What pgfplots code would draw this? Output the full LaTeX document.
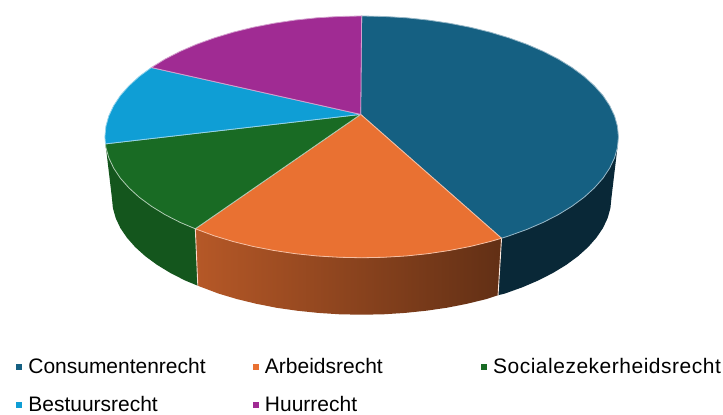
\documentclass[border=0pt]{standalone}
\usepackage{pgfplots}
\pgfplotsset{compat=1.18}
\usepackage{fontspec}
\setmainfont{Liberation Sans}
\definecolor{cBlue}{HTML}{156082}
\definecolor{cOrange}{HTML}{E97132}
\definecolor{cGreen}{HTML}{196B24}
\definecolor{cSky}{HTML}{0F9ED5}
\definecolor{cPurple}{HTML}{A02B93}
\begin{document}
\begin{tikzpicture}
\fill[white] (0,0) rectangle (723pt,410pt);
\begin{axis}[
  hide axis, scale only axis, width=723pt, height=410pt,
  xmin=0, xmax=723, ymin=0, ymax=410, y dir=reverse, clip=false,
  legend columns=3,
  legend cell align=left,
  legend style={draw=none, fill=none, at={(axis cs:16,357)}, anchor=north west,
    font=\fontsize{21}{24}\selectfont, inner sep=0pt, outer sep=0pt,
    /tikz/column 1/.style={column sep=5pt},
    /tikz/column 3/.style={column sep=5pt},
    /tikz/column 5/.style={column sep=5pt},
    row sep=16.5pt},
]
% sides
\addplot[forget plot, draw=none, fill=cBlue!42!black] coordinates {
(502,238.5)(509.4,236.1)(527.2,229.7)(543.7,222.6)(558.9,214.8)(572.5,206.4)(584.6,197.5)(594.9,188.1)(603.5,178.4)(610.2,168.3)(615.1,158)(618,147.6)
(612,198)(611,208.2)(608.2,218.3)(603.5,228.3)(596.9,238)(588.6,247.4)(578.5,256.5)(566.8,265.1)(553.5,273.2)(538.8,280.7)(522.7,287.6)(505.4,293.8)(498.5,295.5)} --cycle;
\addplot[forget plot, draw=none, shade, left color=cOrange!78!black, middle color=cOrange!52!black, right color=cOrange!42!black] coordinates {
(502,238.5)(490.5,241.8)(470.6,246.7)(449.9,250.7)(428.5,253.9)(406.6,256.2)(384.4,257.5)(362,258)(339.6,257.5)(317.4,256.2)(295.5,253.9)(274.1,250.7)(253.4,246.7)(233.5,241.8)(214.6,236.1)(195.5,229)
(198,286)(218.6,293.8)(237,299.3)(256.3,304)(276.5,308)(297.3,311)(318.6,313.2)(340.2,314.6)(362,315)(383.8,314.6)(405.4,313.2)(426.7,311)(447.5,308)(467.7,304)(487,299.3)(498.5,295.5)} --cycle;
\addplot[forget plot, draw=none, fill=cGreen!80!black] coordinates {
(195.5,229)(180.3,222.6)(165.1,214.8)(151.5,206.4)(139.4,197.5)(129.1,188.1)(120.5,178.4)(113.8,168.3)(108.9,158)(106,147.6)(105.6,144)
(112,198)(113,208.2)(115.8,218.3)(120.5,228.3)(127.1,238)(135.4,247.4)(145.5,256.5)(157.2,265.1)(170.5,273.2)(185.2,280.7)(198,286)} --cycle;
\addplot[forget plot, color=white!85!cOrange, line width=0.9pt] coordinates {(502,238.5)(498.5,295.5)};
\addplot[forget plot, color=white!75!cOrange, line width=0.9pt] coordinates {(195.5,229)(198,286)};
% top faces
\addplot[forget plot, fill=cBlue, draw=cBlue!45!white, line width=0.8pt, line join=round] coordinates {
(361,114.5)(362,16)(384.4,16.5)(406.6,17.8)(428.5,20.1)(449.9,23.3)(470.6,27.3)(490.5,32.2)(509.4,37.9)(527.2,44.3)(543.7,51.4)(558.9,59.2)(572.5,67.6)(584.6,76.5)(594.9,85.9)(603.5,95.6)(610.2,105.7)(615.1,116)(618,126.4)(619,137)(618,147.6)(615.1,158)(610.2,168.3)(603.5,178.4)(594.9,188.1)(584.6,197.5)(572.5,206.4)(558.9,214.8)(543.7,222.6)(527.2,229.7)(509.4,236.1)(502,238.5)} --cycle;
\addplot[forget plot, fill=cOrange, draw=cOrange!45!white, line width=0.8pt, line join=round] coordinates {
(361,114.5)(502,238.5)(490.5,241.8)(470.6,246.7)(449.9,250.7)(428.5,253.9)(406.6,256.2)(384.4,257.5)(362,258)(339.6,257.5)(317.4,256.2)(295.5,253.9)(274.1,250.7)(253.4,246.7)(233.5,241.8)(214.6,236.1)(195.5,229)} --cycle;
\addplot[forget plot, fill=cGreen, draw=cGreen!35!white, line width=0.8pt, line join=round] coordinates {
(361,114.5)(195.5,229)(180.3,222.6)(165.1,214.8)(151.5,206.4)(139.4,197.5)(129.1,188.1)(120.5,178.4)(113.8,168.3)(108.9,158)(106,147.6)(105.6,144)} --cycle;
\addplot[forget plot, fill=cSky, draw=cSky!45!white, line width=0.8pt, line join=round] coordinates {
(361,114.5)(105.6,144)(105,137)(106,126.4)(108.9,116)(113.8,105.7)(120.5,95.6)(129.1,85.9)(139.4,76.5)(151.5,67.6)} --cycle;
\addplot[forget plot, fill=cPurple, draw=cPurple!45!white, line width=0.8pt, line join=round] coordinates {
(361,114.5)(151.5,67.6)(165.1,59.2)(180.3,51.4)(196.8,44.3)(214.6,37.9)(233.5,32.2)(253.4,27.3)(274.1,23.3)(295.5,20.1)(317.4,17.8)(339.6,16.5)(362,16)} --cycle;
% legend
\addlegendimage{legend image code/.code={\fill[cBlue] (0pt,-2.5pt) rectangle (5pt,2.5pt);}}
\addlegendentry{Consumentenrecht\rule{45pt}{0pt}}
\addlegendimage{legend image code/.code={\fill[cOrange] (0pt,-2.5pt) rectangle (5pt,2.5pt);}}
\addlegendentry{Arbeidsrecht\rule{96pt}{0pt}}
\addlegendimage{legend image code/.code={\fill[cGreen] (0pt,-2.5pt) rectangle (5pt,2.5pt);}}
\addlegendentry{\addfontfeature{LetterSpace=2.5}Socialezekerheidsrecht}
\addlegendimage{legend image code/.code={\fill[cSky] (0pt,-2.5pt) rectangle (5pt,2.5pt);}}
\addlegendentry{Bestuursrecht}
\addlegendimage{legend image code/.code={\fill[cPurple] (0pt,-2.5pt) rectangle (5pt,2.5pt);}}
\addlegendentry{Huurrecht}
\end{axis}
\end{tikzpicture}
\end{document}
